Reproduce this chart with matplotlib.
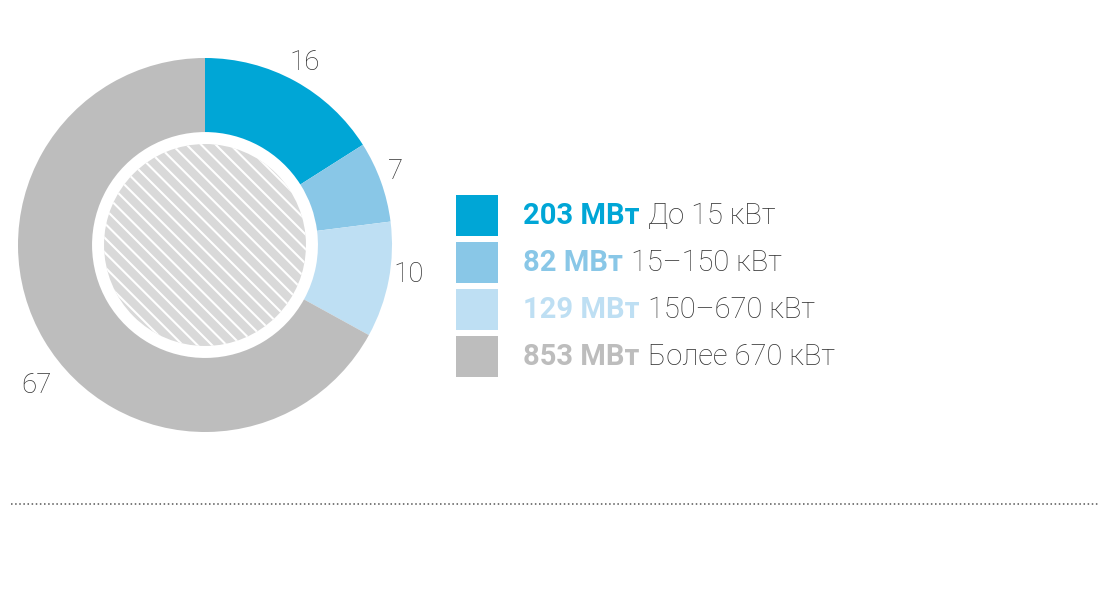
import numpy as np
import matplotlib.pyplot as plt
from matplotlib.patches import Circle, Rectangle
from matplotlib.collections import LineCollection

# данные
shares = [16, 7, 10, 67]
power_mw = ['203 МВт', '82 МВт', '129 МВт', '853 МВт']
ranges = ['До 15 кВт', '15–150 кВт', '150–670 кВт', 'Более 670 кВт']
colors = ['#00a6d6', '#89c7e7', '#bedff3', '#bdbdbd']

plt.rcParams['font.family'] = ['Roboto', 'DejaVu Sans']

W, H = 1103, 591
fig = plt.figure(figsize=(W / 100, H / 100), dpi=100)

# фон в пикселях для легенды и пунктира
bg = fig.add_axes([0, 0, 1, 1])
bg.set_xlim(0, W)
bg.set_ylim(H, 0)
bg.axis('off')

# кольцевая диаграмма
cx, cy, R = 205, 245, 187
ax = fig.add_axes([(cx - R) / W, (H - cy - R) / H, 2 * R / W, 2 * R / H])
wedges, texts = ax.pie(shares, colors=colors, startangle=90, counterclock=False,
                       radius=1, labels=[str(s) for s in shares], labeldistance=1.13,
                       wedgeprops=dict(width=0.396, linewidth=0),
                       textprops=dict(fontsize=20, color='#333333', fontweight='light'))
nudge = [(-2, -3), (-8, 2), (-4, 10), (13, -33)]
for t, (dx, dy) in zip(texts, nudge):
    t.set_ha('center')
    t.set_va('center')
    x, y = t.get_position()
    t.set_position((x + dx / R, y + dy / R))

# штриховка в центре
r_in = 0.54
hole = Circle((0, 0), r_in, facecolor='#d9d9d9', edgecolor='none')
ax.add_patch(hole)
step = 0.078
segs = [[(-1.2, c + 1.2), (1.2, c - 1.2)] for c in np.arange(-1.2, 1.2, step)]
lc = LineCollection(segs, colors='white', linewidths=1.5)
ax.add_collection(lc)
lc.set_clip_path(hole)
ax.set_xlim(-1, 1)
ax.set_ylim(-1, 1)
ax.set_aspect('equal')
ax.axis('off')

# легенда
for i in range(len(shares)):
    y0 = 195 + i * 47
    bg.add_patch(Rectangle((456, y0), 42, 41, facecolor=colors[i], edgecolor='none'))
    t1 = bg.text(523, y0 + 21, power_mw[i], fontsize=21, fontweight='bold',
                 color=colors[i], va='center', ha='left')
    bg.annotate(ranges[i], xy=(1, 0.5), xycoords=t1, xytext=(6, 0),
                textcoords='offset points', fontsize=21, fontweight='light',
                color='#333333', va='center', ha='left')

# пунктир
bg.plot([11, 1100], [504, 504], color='#555555', lw=1.1, linestyle=(0, (1, 1.7)))

fig.savefig('out.png', dpi=100)
